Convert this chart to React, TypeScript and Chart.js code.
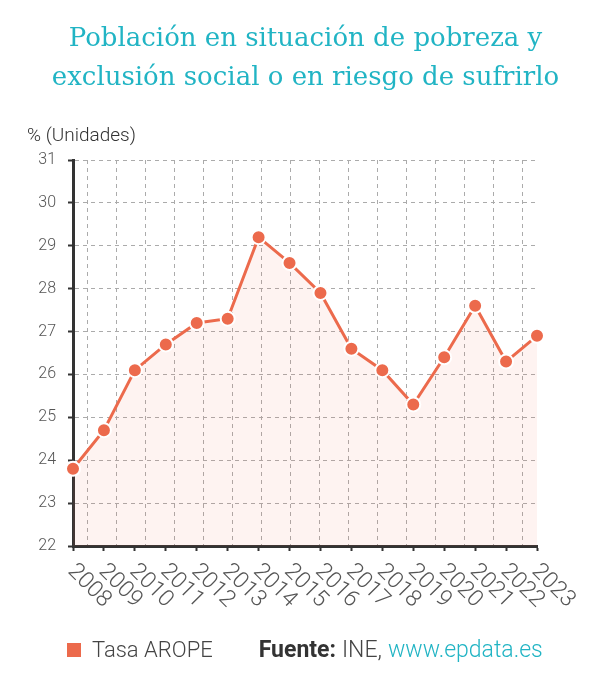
import React, { useEffect, useRef } from 'react';
import { Chart, registerables } from 'chart.js';

Chart.register(...registerables);

const years = ['2008', '2009', '2010', '2011', '2012', '2013', '2014', '2015', '2016', '2017', '2018', '2019', '2020', '2021', '2022', '2023'];
const aropeRate = [23.8, 24.7, 26.1, 26.7, 27.2, 27.3, 29.2, 28.6, 27.9, 26.6, 26.1, 25.3, 26.4, 27.6, 26.3, 26.9];
const yMin = 22;
const yMax = 31;
const titleLines = ['Población en situación de pobreza y', 'exclusión social o en riesgo de sufrirlo'];
const yAxisTitle = '% (Unidades)';
const seriesName = 'Tasa AROPE';

const CORAL = '#EC6A4C';
const TEAL = '#21B4C4';
const GRID = '#ABABAB';
const AXIS = '#333333';

const xLabelPlugin = {
  id: 'rotatedXLabels',
  afterDraw(chart: any) {
    const xs = chart.scales.x;
    const ctx = chart.ctx;
    ctx.save();
    ctx.font = '300 23px Roboto';
    ctx.fillStyle = '#555555';
    ctx.textAlign = 'left';
    ctx.textBaseline = 'alphabetic';
    const labels = chart.data.labels as string[];
    labels.forEach((lab, i) => {
      const x = xs.getPixelForTick(i);
      ctx.save();
      ctx.translate(x - 6, xs.top + 26);
      ctx.rotate(Math.PI / 4);
      ctx.fillText(lab, 0, 0);
      ctx.restore();
    });
    ctx.restore();
  },
};

export default function App() {
  const ref = useRef<HTMLCanvasElement | null>(null);

  useEffect(() => {
    if (!ref.current) return;
    const chart = new Chart(ref.current, {
      type: 'line',
      data: {
        labels: years,
        datasets: [
          {
            label: seriesName,
            data: aropeRate,
            xAxisID: 'x',
            yAxisID: 'y',
            borderColor: CORAL,
            borderWidth: 3,
            backgroundColor: 'rgba(236,106,76,0.08)',
            fill: 'start',
            tension: 0,
            pointRadius: 7,
            pointHoverRadius: 7,
            pointBackgroundColor: CORAL,
            pointBorderColor: '#ffffff',
            pointBorderWidth: 2,
            clip: false as any,
          },
        ],
      },
      options: {
        responsive: false,
        animation: false,
        layout: { padding: { top: 160, left: 0, right: 74, bottom: 0 } },
        plugins: {
          legend: { display: false },
          title: { display: false },
          tooltip: { enabled: false },
        },
        scales: {
          x: {
            type: 'category',
            position: 'bottom',
            offset: false,
            grid: { display: true, drawOnChartArea: false, drawTicks: true, tickLength: 5, tickColor: AXIS, tickWidth: 2 },
            border: { display: true, color: AXIS, width: 3 },
            ticks: { display: false },
            afterFit: (s: any) => { s.height = 133; },
          } as any,
          xg: {
            type: 'category',
            labels: years,
            position: 'top',
            offset: true,
            grid: { display: true, offset: false, color: GRID, lineWidth: 1, drawTicks: false },
            border: { display: false, dash: [4, 4] },
            ticks: { display: false },
            afterFit: (s: any) => { s.height = 0; },
          } as any,
          y: {
            type: 'linear',
            min: yMin,
            max: yMax,
            ticks: {
              stepSize: 1,
              color: '#555555',
              padding: 12,
              font: { family: 'Roboto', size: 16, weight: '300' as any },
            },
            grid: { color: GRID, lineWidth: 1, tickColor: AXIS, tickLength: 5, tickWidth: 2, tickBorderDash: [] },
            border: { display: true, color: AXIS, width: 3, dash: [4, 4] },
            afterFit: (s: any) => { s.width = 73; },
          } as any,
        },
      },
      plugins: [xLabelPlugin],
    });
    return () => chart.destroy();
  }, []);

  return (
    <div style={{ position: 'absolute', left: 0, top: 0, width: 611, height: 679, background: '#ffffff', overflow: 'hidden' }}>
      <canvas ref={ref} width={611} height={679} style={{ position: 'absolute', left: 0, top: 0, width: 611, height: 679 }} />
      {titleLines.map((t, i) => (
        <div
          key={i}
          style={{
            position: 'absolute',
            left: 0,
            width: 611,
            top: 21 + i * 39,
            textAlign: 'center',
            fontFamily: '"DejaVu Serif", serif',
            fontSize: 26,
            lineHeight: '32px',
            color: TEAL,
            whiteSpace: 'nowrap',
          }}
        >
          {t}
        </div>
      ))}
      <div
        style={{
          position: 'absolute',
          left: 27,
          top: 123,
          fontFamily: 'Roboto, sans-serif',
          fontSize: 19,
          lineHeight: '24px',
          color: '#333333',
          fontWeight: 300,
          whiteSpace: 'nowrap',
        }}
      >
        {yAxisTitle}
      </div>
      <div
        style={{
          position: 'absolute',
          left: 67,
          top: 637,
          height: 26,
          display: 'flex',
          alignItems: 'center',
          fontFamily: 'Roboto, sans-serif',
          lineHeight: '26px',
          whiteSpace: 'nowrap',
        }}
      >
        <span style={{ display: 'inline-block', width: 14, height: 14, background: CORAL, marginRight: 11 }} />
        <span style={{ color: '#444444', fontWeight: 300, fontSize: 22 }}>{seriesName}</span>
        <span style={{ marginLeft: 46, color: '#333333', fontWeight: 700, fontSize: 23 }}>Fuente:</span>
        <span style={{ marginLeft: 6, color: '#444444', fontWeight: 300, fontSize: 23 }}>INE,</span>
        <span style={{ marginLeft: 6, color: TEAL, fontWeight: 300, fontSize: 23 }}>www.epdata.es</span>
      </div>
    </div>
  );
}
